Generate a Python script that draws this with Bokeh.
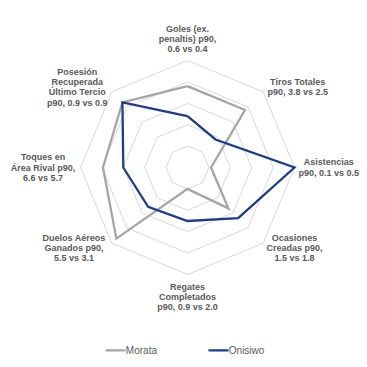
import math
from bokeh.plotting import figure
from bokeh.models import Range1d
from bokeh.core.properties import value
from bokeh.embed import file_html
from bokeh.resources import INLINE

# ---- data ----
axes_labels = [
    ["Goles (ex.", "penaltis) p90,", "0.6 vs 0.4"],
    ["Tiros Totales", "p90, 3.8 vs 2.5"],
    ["Asistencias", "p90, 0.1 vs 0.5"],
    ["Ocasiones", "Creadas p90,", "1.5 vs 1.8"],
    ["Regates", "Completados", "p90, 0.9 vs 2.0"],
    ["Duelos Aéreos", "Ganados p90,", "5.5 vs 3.1"],
    ["Toques en", "Área Rival p90,", "6.6 vs 5.7"],
    ["Posesión", "Recuperada", "Último Tercio", "p90, 0.9 vs 0.9"],
]
morata = [0.76, 0.76, 0.22, 0.54, 0.20, 0.94, 0.79, 0.86]
onisiwo = [0.48, 0.37, 1.00, 0.67, 0.50, 0.52, 0.60, 0.86]
series_names = ["Morata", "Onisiwo"]
ring_levels = [0.2, 0.4, 0.6, 0.8, 1.0]

# ---- styles ----
COL_M = "#a5a5a5"
COL_O = "#1f3b82"
GRID = "#d9d9d9"
TXT = "#595959"
FONT = "Liberation Sans"
# label block centres (in radius units)
label_pos = [(0, 1.20), (1.03, 0.75), (1.32, 0.0), (1.0, -0.75),
             (0, -1.21), (-1.06, -0.75), (-1.35, 0.0), (-1.03, 0.75)]
R = 107.0
LH = 10.2 / R
W = 359
CX, CY = 187.0, 167.0

n = len(axes_labels)
ang = [2 * math.pi * k / n for k in range(n)]

p = figure(width=W, height=W, output_backend="svg", toolbar_location=None,
           x_range=Range1d(-CX / R, (W - CX) / R), y_range=Range1d((CY - W) / R, CY / R),
           min_border=0, background_fill_color="white", border_fill_color="white")
p.axis.visible = False
p.grid.visible = False
p.outline_line_color = None

for r in ring_levels:
    xs = [r * math.sin(a) for a in ang] + [0]
    ys = [r * math.cos(a) for a in ang] + [r]
    p.line(xs, ys, line_color=GRID, line_width=1)

def poly(vals):
    xs = [v * math.sin(a) for v, a in zip(vals, ang)]
    ys = [v * math.cos(a) for v, a in zip(vals, ang)]
    return xs + xs[:1], ys + ys[:1]

for vals, col in [(morata, COL_M), (onisiwo, COL_O)]:
    xs, ys = poly(vals)
    p.line(xs, ys, line_color=col, line_width=2.3, line_join="miter")

# axis labels
tx, ty, tt = [], [], []
for lines, (cx, cy) in zip(axes_labels, label_pos):
    m = len(lines)
    for i, s in enumerate(lines):
        tx.append(cx)
        ty.append(cy + ((m - 1) / 2 - i) * LH)
        tt.append(s)
p.text(tx, ty, text=tt, text_align="center", text_baseline="middle",
       text_font=value(FONT), text_font_size="9px", text_font_style="bold",
       text_color=TXT)

# legend
leg_y = -1.71
leg_x = [-0.766, 0.196]
for name, col, lx in zip(series_names, [COL_M, COL_O], leg_x):
    p.line([lx, lx + 0.187], [leg_y, leg_y], line_color=col, line_width=2.3)
    p.text([lx + 0.19], [leg_y], text=[name], text_align="left", text_baseline="middle",
           text_font=value(FONT), text_font_size="10px", text_color=TXT)

open("out.html", "w").write(file_html(p, INLINE))
